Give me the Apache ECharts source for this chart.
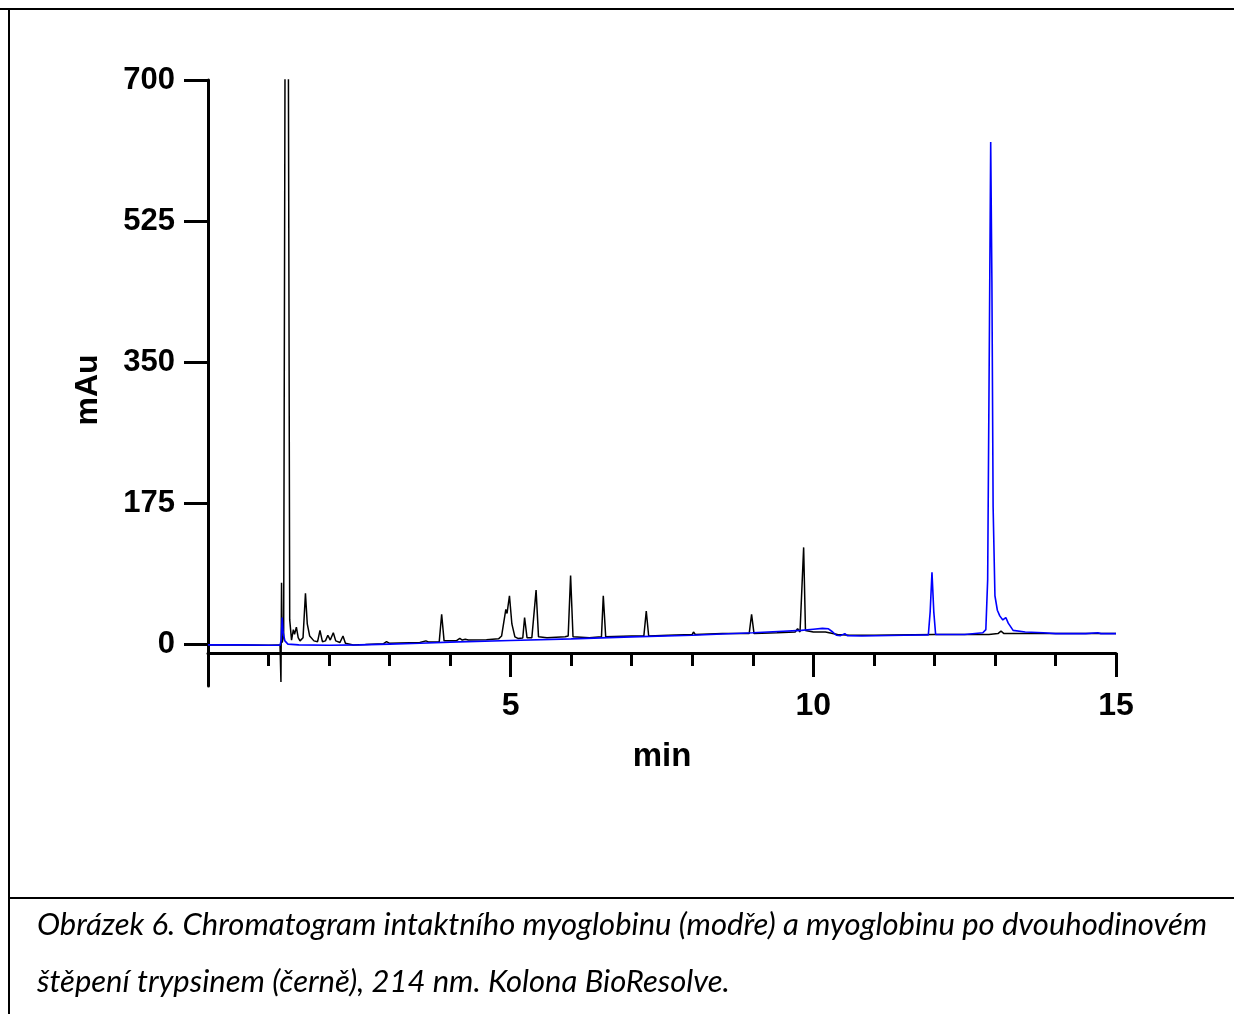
<!DOCTYPE html>
<html>
<head>
<meta charset="utf-8">
<script src="https://cdn.jsdelivr.net/npm/echarts@6/dist/echarts.min.js"></script>
<style>
html,body{margin:0;padding:0;background:#fff;}
#chart{width:1234px;height:1014px;}
</style>
</head>
<body>
<div id="chart"></div>
<script>
// Time (min), absorbance (mAu) pairs
const digestTrace = [
  [0,-1],[0.5,-1],[1.0,-1.5],[1.19,-1],[1.205,-47],[1.215,76],[1.225,2],[1.25,10],[1.30,1600],[1.35,30],
  [1.38,5],[1.41,18],[1.43,12],[1.46,21],[1.49,8],[1.52,4],[1.57,8],[1.61,63],[1.64,25],[1.68,10],
  [1.75,4],[1.81,3],[1.85,17],[1.89,3],[1.94,4],[1.98,11],[2.02,5],[2.07,14],[2.11,4],[2.18,2],
  [2.23,10],[2.27,1],[2.4,-1],[2.6,-0.5],[2.9,0.5],[2.95,3],[3.0,1],[3.5,2],[3.6,4],[3.65,2.5],
  [3.82,3],[3.86,37],[3.9,4],[4.1,4],[4.16,7],[4.2,5],[4.25,6],[4.3,5],[4.6,5.5],[4.8,6.5],
  [4.85,10],[4.88,8],[4.92,43],[4.94,38],[4.98,60],[5.02,25],[5.07,9],[5.12,7],[5.2,7.5],[5.23,33],
  [5.27,8],[5.35,8],[5.42,67],[5.46,9],[5.6,8],[5.9,9],[5.95,10],[5.99,85],[6.03,9],[6.3,8],
  [6.5,9],[6.53,60],[6.57,9],[7.0,10],[7.2,10],[7.24,41],[7.28,10],[7.6,11],[8.0,12],[8.02,15],
  [8.05,12],[8.5,13],[8.94,13],[8.98,37],[9.02,13],[9.4,14],[9.7,15],[9.74,19],[9.78,15],[9.81,17],
  [9.84,120],[9.87,17],[10.0,15],[10.2,15],[10.4,12],[10.6,11],[11.0,11],[12.0,12],[12.9,12],[13.05,13],
  [13.1,16],[13.15,13],[13.5,13],[14.0,13],[15,13]
];
const intactTrace = [
  [0,-1],[0.5,-1],[1.0,-1.5],[1.19,-1.5],[1.21,5],[1.225,33],[1.24,15],[1.27,4],[1.32,0],[1.5,-1],
  [2.0,-1.5],[2.5,-1],[3.0,0],[3.5,1],[4.0,2.5],[5.0,4.5],[6.0,6.5],[7.0,9],[8.0,11],[8.5,12.5],
  [9.0,14],[9.5,16],[9.8,17],[10.0,18.5],[10.15,19.5],[10.25,19],[10.32,15],[10.38,11],[10.45,10.5],[10.52,13],
  [10.56,10.5],[10.8,10],[11.5,11],[11.9,11.5],[11.93,40],[11.96,89],[11.99,40],[12.02,12],[12.5,12],[12.8,14],
  [12.85,18],[12.88,80],[12.91,400],[12.93,623],[12.95,450],[12.97,170],[13.0,60],[13.04,42],[13.08,35],[13.13,30],
  [13.18,33],[13.22,26],[13.3,17],[13.5,15],[13.8,14],[14.0,13],[14.5,13],[14.7,14],[14.75,13],[15,13]
];
const yTickValues = [0,175,350,525,700];
const xTickLabels = [5,10,15];
const xTitle = 'min';
const yTitle = 'mAu';
const captionLines = [
  'Obrázek 6. Chromatogram intaktního myoglobinu (modře) a myoglobinu po dvouhodinovém',
  'štěpení trypsinem (černě), 214 nm. Kolona BioResolve.'
];

const chart = echarts.init(document.getElementById('chart'), null, {renderer:'canvas'});
const axisFont = 'Liberation Sans, Arial, sans-serif';
chart.setOption({
  animation:false,
  backgroundColor:'#fff',
  grid:[
    {left:208, right:118, top:80, height:606},
    {left:208, right:118, top:652, height:1}
  ],
  xAxis:[
    {gridIndex:0, type:'value', min:0, max:15, show:false},
    {gridIndex:1, type:'value', min:0, max:15, interval:5, position:'bottom',
     axisLine:{show:true, onZero:false, lineStyle:{color:'#000', width:3}},
     axisTick:{show:true, length:24, lineStyle:{color:'#000', width:3}},
     minorTick:{show:true, splitNumber:5, length:13, lineStyle:{color:'#000', width:3}},
     splitLine:{show:false}, minorSplitLine:{show:false},
     axisLabel:{customValues:xTickLabels, margin:37, color:'#000', fontSize:32, fontWeight:'bold', fontFamily:axisFont}
    }
  ],
  yAxis:[
    {gridIndex:0, type:'value', min:-52, max:700,
     axisLine:{show:true, onZero:false, lineStyle:{color:'#000', width:3}},
     axisTick:{show:true, customValues:yTickValues, length:24, lineStyle:{color:'#000', width:3}},
     splitLine:{show:false},
     axisLabel:{customValues:yTickValues, margin:33, color:'#000', fontSize:31, fontWeight:'bold', fontFamily:axisFont, padding:[8,0,0,0]}
    },
    {gridIndex:1, type:'value', show:false}
  ],
  series:[
    {type:'line', xAxisIndex:0, yAxisIndex:0, data:digestTrace, showSymbol:false, clip:true,
     lineStyle:{color:'#000', width:1.5}, z:2},
    {type:'line', xAxisIndex:0, yAxisIndex:0, data:intactTrace, showSymbol:false, clip:true,
     lineStyle:{color:'#0000ff', width:1.6}, z:3}
  ],
  graphic:[
    {type:'line', shape:{x1:0, y1:9, x2:1234, y2:9}, style:{stroke:'#000', lineWidth:2}},
    {type:'line', shape:{x1:9, y1:9, x2:9, y2:1014}, style:{stroke:'#000', lineWidth:2}},
    {type:'line', shape:{x1:9, y1:898, x2:1234, y2:898}, style:{stroke:'#000', lineWidth:2}},
    {type:'text', x:662, y:757, style:{text:xTitle, font:'bold 33px Liberation Sans, Arial, sans-serif', fill:'#000', align:'center', verticalAlign:'middle'}},
    {type:'text', x:88, y:390, rotation:Math.PI/2, style:{text:yTitle, font:'bold 32px Liberation Sans, Arial, sans-serif', fill:'#000', align:'center', verticalAlign:'middle'}},
    {type:'text', x:37, y:925, style:{text:captionLines[0], font:'italic 31px Lato, sans-serif', fill:'#000', align:'left', verticalAlign:'middle'}},
    {type:'text', x:37, y:982, style:{text:captionLines[1], font:'italic 31px Lato, sans-serif', fill:'#000', align:'left', verticalAlign:'middle'}}
  ]
});
</script>
</body>
</html>
